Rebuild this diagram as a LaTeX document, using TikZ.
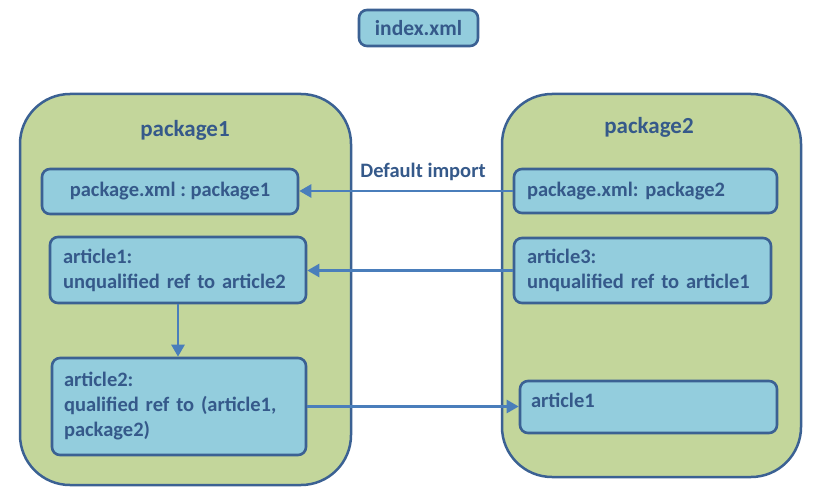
\documentclass[tikz,border=0pt]{standalone}
\usepackage{fontspec}
\setmainfont{Carlito}
\usetikzlibrary{arrows.meta}
\definecolor{pkgfill}{HTML}{C3D69B}
\definecolor{edgec}{HTML}{3B6193}
\definecolor{boxfill}{HTML}{93CDDD}
\definecolor{txtc}{HTML}{35598A}
\definecolor{arrc}{HTML}{4A7EBB}
\frenchspacing
\begin{document}
\begin{tikzpicture}[x=1pt,y=-1pt,
  pkg/.style={draw=edgec, fill=pkgfill, line width=2.5pt, rounded corners=50pt, inner sep=0pt},
  item/.style={draw=edgec, fill=boxfill, line width=2.6pt, rounded corners=8pt, inner sep=0pt,
    font=\bfseries\fontsize{20.5}{25}\selectfont, text=txtc, align=left},
  ttl/.style={font=\bfseries\fontsize{23}{25}\selectfont, text=txtc, inner sep=0pt},
  lbl/.style={font=\bfseries\fontsize{20.5}{22}\selectfont, text=txtc, inner sep=0pt},
  link/.style={draw=arrc, line width=2.5pt, -{Triangle[length=12pt,width=13pt]}}]
\useasboundingbox (0,0) rectangle (834,492);
% packages
\node[pkg, minimum width=331pt, minimum height=391pt] (pkg1) at (185.5,289.5) {};
\node[pkg, minimum width=299pt, minimum height=383pt] (pkg2) at (651.5,285.5) {};
\node[ttl] (t1) at (185,130) {package1};
\node[ttl] (t2) at (649,127) {package2};
% index
\node[item, minimum width=119pt, minimum height=36pt, align=center, font=\bfseries\fontsize{21.5}{25}\selectfont] (index) at (418.5,28) {index.xml};
% package1 items
\node[item, minimum width=256pt, minimum height=45pt, align=center] (px1) at (170,191.5) {package.xml : package1};
\node[item, minimum width=256pt, minimum height=66pt, text width=230pt] (a1) at (178,270) {article1:\\unqualified ref to article2};
\node[item, minimum width=254pt, minimum height=97pt, text width=230pt] (a2) at (179,406.5) {article2:\\qualified ref to (article1,\\package2)};
% package2 items
\node[item, minimum width=263pt, minimum height=44pt, text width=237pt] (px2) at (645.5,191) {package.xml: package2};
\node[item, minimum width=257pt, minimum height=65pt, text width=231pt] (a3) at (642.5,270.5) {article3:\\unqualified ref to article1};
\node[item, minimum width=257pt, minimum height=52pt, text width=235pt, text depth=14pt] (a1b) at (648.5,407) {article1};
% connectors
\draw[link] (px2.west) -- (px2.west -| px1.east);
\node[lbl] (di) at (423,172) {Default import};
\draw[link] (a3.west) -- (a3.west -| a1.east);
\draw[link] (a1.south) -- (a1.south |- a2.north);
\draw[link] (a2.east) -- (a2.east -| a1b.west);
\end{tikzpicture}
\end{document}
